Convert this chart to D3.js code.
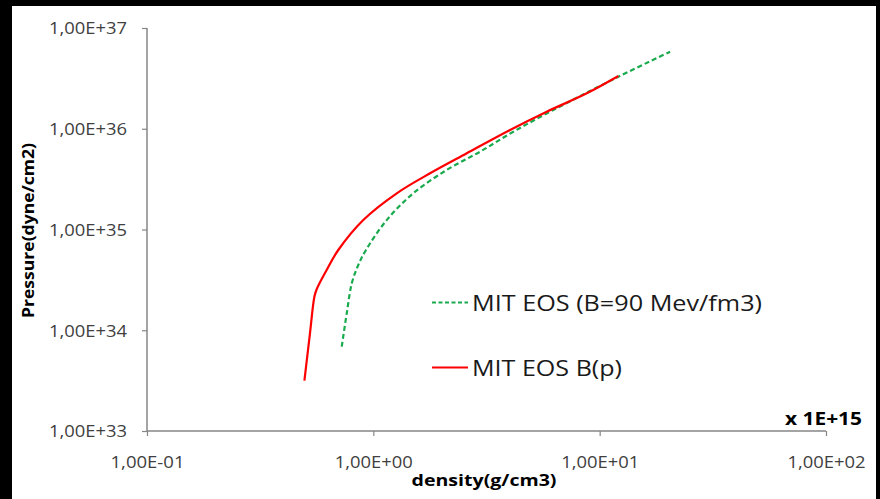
<!DOCTYPE html>
<html>
<head>
<meta charset="utf-8">
<script src="https://cdn.jsdelivr.net/npm/d3@7"></script>
<style>
  html, body { margin: 0; padding: 0; background: #000; }
  svg { display: block; }
  text { font-family: "Open Sans", "DejaVu Sans", sans-serif; }
</style>
</head>
<body>
<svg id="chart" width="880" height="499"></svg>
<script>
// density in units of 1E+15 g/cm3, pressure in dyne/cm2
var densityConst = [0.725, 0.763, 0.803, 0.858, 0.928, 1.146, 1.502, 2.110, 2.961, 4.156, 6.244, 12.10, 20.47];
var pressureConst = [6.87e33, 1.47e34, 2.92e34, 4.44e34, 6.26e34, 1.24e35, 2.29e35, 3.90e35, 5.92e35, 9.35e35, 1.535e36, 3.285e36, 5.82e36];

var densityBp = [0.496, 0.525, 0.549, 0.562, 0.622, 0.700, 0.903, 1.269, 1.781, 2.587, 4.018, 5.836, 8.77, 12.10];
var pressureBp = [3.16e33, 9.39e33, 2.15e34, 2.55e34, 3.96e34, 6.26e34, 1.243e35, 2.287e35, 3.613e35, 5.705e35, 9.72e35, 1.476e36, 2.248e36, 3.339e36];

var xTicks = [0.1, 1, 10, 100];
var xTickLabels = ["1,00E-01", "1,00E+00", "1,00E+01", "1,00E+02"];
var yTicks = [1e33, 1e34, 1e35, 1e36, 1e37];
var yTickLabels = ["1,00E+33", "1,00E+34", "1,00E+35", "1,00E+36", "1,00E+37"];

var seriesNames = ["MIT EOS (B=90 Mev/fm3)", "MIT EOS B(p)"];

var svg = d3.select("#chart");

// white panel inside the black frame
svg.append("rect").attr("x", 12).attr("y", 6).attr("width", 864).attr("height", 493).attr("fill", "#fff");

var plot = { left: 147, right: 826, top: 28, bottom: 431 };

var x = d3.scaleLog().domain([0.1, 100]).range([plot.left, plot.right]);
var y = d3.scaleLog().domain([1e33, 1e37]).range([plot.bottom, plot.top]);

var axisColor = "#868686";

// y axis
var yAxis = svg.append("g")
    .attr("transform", "translate(" + plot.left + ",0)")
    .call(d3.axisLeft(y).tickValues(yTicks).tickSize(5).tickFormat(function(d, i) { return yTickLabels[i]; }));
yAxis.select(".domain").attr("stroke", axisColor).attr("stroke-width", 1.5).attr("d", "M0," + plot.top + "V" + plot.bottom);
yAxis.selectAll(".tick line").attr("stroke", axisColor).attr("stroke-width", 1.2);
yAxis.selectAll(".tick text")
    .attr("x", -20).attr("dy", "0.36em")
    .attr("fill", "#404040").style("font-size", "16px")
    .attr("textLength", 78).attr("lengthAdjust", "spacingAndGlyphs");

// x axis
var xAxis = svg.append("g")
    .attr("transform", "translate(0," + plot.bottom + ")")
    .call(d3.axisBottom(x).tickValues(xTicks).tickSize(5).tickFormat(function(d, i) { return xTickLabels[i]; }));
xAxis.select(".domain").attr("stroke", axisColor).attr("stroke-width", 1.5).attr("d", "M" + plot.left + ",0H" + plot.right);
xAxis.selectAll(".tick line").attr("stroke", axisColor).attr("stroke-width", 1.2);
xAxis.selectAll(".tick text")
    .attr("y", 37).attr("dy", 0)
    .attr("fill", "#404040").style("font-size", "16px")
    .attr("textLength", function(d, i) { return i === 0 ? 74 : 78; }).attr("lengthAdjust", "spacingAndGlyphs");
xAxis.selectAll("text").attr("font-family", null);
yAxis.selectAll("text").attr("font-family", null);

// curves
var line = d3.line()
    .x(function(d) { return x(d[0]); })
    .y(function(d) { return y(d[1]); })
    .curve(d3.curveCatmullRom.alpha(0.5));

svg.append("path")
    .datum(d3.zip(densityConst, pressureConst))
    .attr("d", line)
    .attr("fill", "none").attr("stroke", "#1aaa4e").attr("stroke-width", 2.2)
    .attr("stroke-dasharray", "5,3");

svg.append("path")
    .datum(d3.zip(densityBp, pressureBp))
    .attr("d", line)
    .attr("fill", "none").attr("stroke", "#ff0000").attr("stroke-width", 2.2);

// legend
var legend = svg.append("g");
var legendRows = [
    { name: seriesNames[0], color: "#1aaa4e", dash: "4,2.5", y: 302.5, len: 290 },
    { name: seriesNames[1], color: "#ff0000", dash: null, y: 367.5, len: 150 }
];
legendRows.forEach(function(r) {
    legend.append("line")
        .attr("x1", 432).attr("x2", 468).attr("y1", r.y).attr("y2", r.y)
        .attr("stroke", r.color).attr("stroke-width", 2)
        .attr("stroke-dasharray", r.dash);
    legend.append("text")
        .attr("x", 472).attr("y", r.y + 8)
        .attr("fill", "#1a1a1a").style("font-size", "22px")
        .attr("textLength", r.len).attr("lengthAdjust", "spacingAndGlyphs")
        .text(r.name);
});

// titles
svg.append("text")
    .attr("transform", "translate(34,230.5) rotate(-90)")
    .attr("text-anchor", "middle")
    .style("font-size", "16px").style("font-weight", "bold").attr("fill", "#000")
    .attr("textLength", 175).attr("lengthAdjust", "spacingAndGlyphs")
    .text("Pressure(dyne/cm2)");

svg.append("text")
    .attr("x", 484).attr("y", 486)
    .attr("text-anchor", "middle")
    .style("font-size", "16px").style("font-weight", "bold").attr("fill", "#000")
    .attr("textLength", 145).attr("lengthAdjust", "spacingAndGlyphs")
    .text("density(g/cm3)");

svg.append("text")
    .attr("x", 862).attr("y", 425)
    .attr("text-anchor", "end")
    .style("font-size", "17px").style("font-weight", "bold").attr("fill", "#000")
    .attr("textLength", 77).attr("lengthAdjust", "spacingAndGlyphs")
    .text("x 1E+15");
</script>
</body>
</html>
